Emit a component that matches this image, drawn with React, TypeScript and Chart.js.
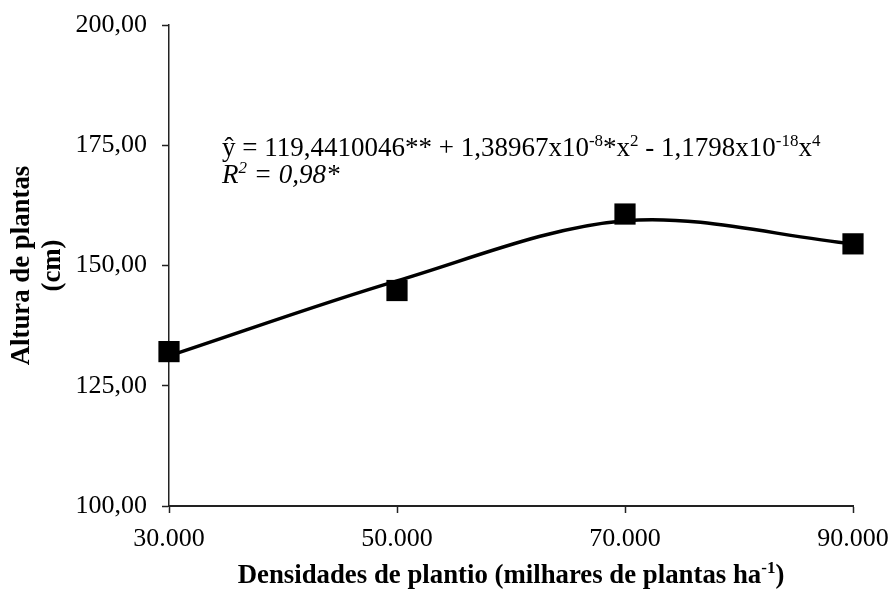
import { useEffect, useRef } from 'react';
import { Chart, registerables } from 'chart.js';

Chart.register(...registerables);

// ---- data ----
const densities = [30000, 50000, 70000, 90000];
const observedHeights = [132.1, 144.8, 160.7, 154.5];
const fittedHeights = [131.2, 146.8, 159.3, 154.5];
const xTickValues = [30000, 50000, 70000, 90000];
const yTickValues = [100, 125, 150, 175, 200];
const yTitleLines = ['Altura de plantas', '(cm)'];
const xTitleRuns = [
  { t: 'Densidades de plantio (milhares de plantas ha' },
  { t: '-1', sup: true },
  { t: ')' },
];
const equationRuns = [
  { t: 'ŷ = 119,4410046** + 1,38967x10' },
  { t: '-8', sup: true },
  { t: '*x' },
  { t: '2', sup: true },
  { t: ' - 1,1798x10' },
  { t: '-18', sup: true },
  { t: 'x' },
  { t: '4', sup: true },
];
const r2Runs = [
  { t: 'R' },
  { t: '2', sup: true },
  { t: ' = 0,98*' },
];

const FAMILY = '"Liberation Serif", "Times New Roman", serif';

type Run = { t: string; sup?: boolean };

function drawRuns(
  ctx: CanvasRenderingContext2D,
  x: number,
  y: number,
  runs: Run[],
  size: number,
  prefix: string,
  align: 'left' | 'center' = 'left'
) {
  const fontFor = (r: Run) => `${prefix} ${r.sup ? Math.round(size * 0.62) : size}px ${FAMILY}`;
  let total = 0;
  for (const r of runs) {
    ctx.font = fontFor(r);
    total += ctx.measureText(r.t).width;
  }
  let cx = align === 'center' ? x - total / 2 : x;
  ctx.textAlign = 'left';
  ctx.textBaseline = 'alphabetic';
  for (const r of runs) {
    ctx.font = fontFor(r);
    ctx.fillText(r.t, cx, r.sup ? y - size * 0.36 : y);
    cx += ctx.measureText(r.t).width;
  }
}

const textPlugin = {
  id: 'customText',
  afterDraw(chart: any) {
    const ctx = chart.ctx as CanvasRenderingContext2D;
    const area = chart.chartArea;
    ctx.save();
    ctx.fillStyle = '#000';
    drawRuns(ctx, 222, 155.5, equationRuns, 27, '');
    drawRuns(ctx, 222, 182.5, r2Runs, 27, 'italic');
    drawRuns(ctx, (area.left + area.right) / 2, 583, xTitleRuns, 26.8, 'bold', 'center');
    ctx.restore();
  },
};

export default function App() {
  const ref = useRef<HTMLCanvasElement | null>(null);

  useEffect(() => {
    if (!ref.current) return;
    const chart = new Chart(ref.current, {
      type: 'scatter',
      data: {
        datasets: [
          {
            label: 'Observado',
            data: densities.map((d, i) => ({ x: d, y: observedHeights[i] })),
            showLine: false,
            pointStyle: 'rect',
            pointRadius: 15,
            pointHoverRadius: 15,
            backgroundColor: '#000',
            borderColor: '#000',
            borderWidth: 0,
            clip: false,
            order: 1,
          },
          {
            label: 'Ajustado',
            data: densities.map((d, i) => ({ x: d, y: fittedHeights[i] })),
            showLine: true,
            tension: 0.333,
            borderColor: '#000',
            borderWidth: 3.5,
            pointRadius: 0,
            pointHoverRadius: 0,
            fill: false,
            clip: false,
            order: 2,
          },
        ],
      },
      options: {
        animation: false,
        responsive: false,
        layout: { padding: { left: 0, right: 40, top: 25, bottom: 0 } },
        plugins: {
          legend: { display: false },
          tooltip: { enabled: false },
        },
        scales: {
          x: {
            type: 'linear',
            min: 30000,
            max: 90000,
            afterBuildTicks: (s: any) => {
              s.ticks = xTickValues.map((v) => ({ value: v }));
            },
            afterFit: (s: any) => {
              s.height = 84;
              s.paddingLeft = 0;
              s.paddingRight = 0;
            },
            grid: {
              display: true,
              drawOnChartArea: false,
              drawTicks: true,
              tickLength: 7,
              tickWidth: 1.5,
              tickColor: '#222',
            },
            border: { display: true, color: '#222', width: 2 },
            ticks: {
              color: '#000',
              padding: 11,
              maxRotation: 0,
              autoSkip: false,
              font: { family: FAMILY, size: 26 },
              callback: (v: any) => `${Math.round(Number(v) / 1000)}.000`,
            },
          },
          y: {
            min: 100,
            max: 200,
            afterBuildTicks: (s: any) => {
              s.ticks = yTickValues.map((v) => ({ value: v }));
            },
            afterFit: (s: any) => {
              s.width = 169;
              s.paddingTop = 0;
              s.paddingBottom = 0;
            },
            grid: {
              display: true,
              drawOnChartArea: false,
              drawTicks: true,
              tickLength: 7,
              tickWidth: 1.5,
              tickColor: '#222',
            },
            border: { display: true, color: '#222', width: 1.5 },
            ticks: {
              color: '#000',
              padding: 15,
              autoSkip: false,
              font: { family: FAMILY, size: 26 },
              callback: (v: any) => Number(v).toFixed(2).replace('.', ','),
            },
            title: {
              display: true,
              text: yTitleLines,
              color: '#000',
              padding: { top: 6.5, bottom: 0 },
              font: { family: FAMILY, size: 26.8, weight: 'bold', lineHeight: 1.157 },
            },
          },
        },
      },
      plugins: [textPlugin],
    });
    return () => chart.destroy();
  }, []);

  return (
    <div style={{ position: 'fixed', left: 0, top: 0, width: 893, height: 590, background: '#fff' }}>
      <canvas ref={ref} width={893} height={590} style={{ width: 893, height: 590, display: 'block' }} />
    </div>
  );
}
